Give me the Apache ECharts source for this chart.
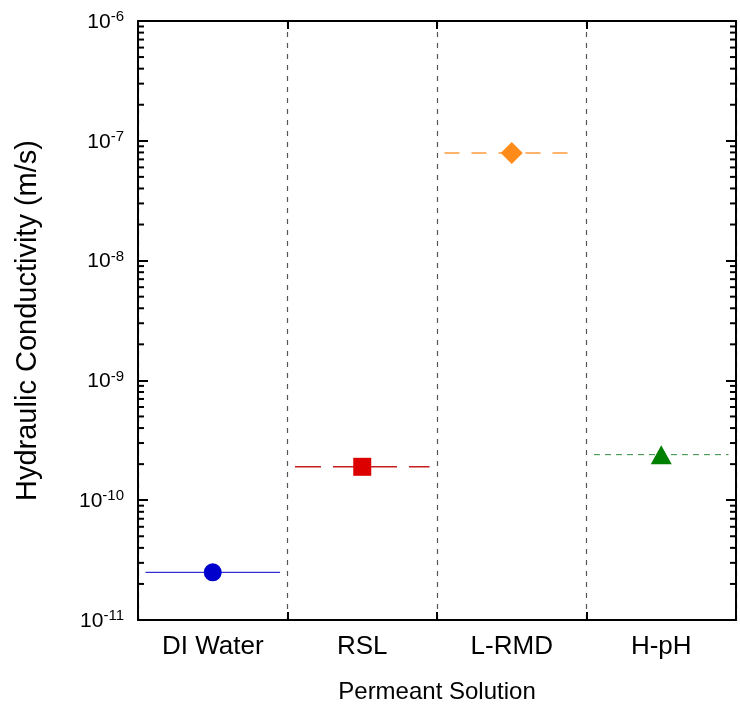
<!DOCTYPE html>
<html>
<head>
<meta charset="utf-8">
<script src="https://cdn.jsdelivr.net/npm/echarts@6/dist/echarts.min.js"></script>
<style>
  html, body { margin: 0; padding: 0; background: #fff; }
  #chart { width: 740px; height: 709px; }
</style>
</head>
<body>
<div id="chart"></div>
<script>
// 数据
const categories = ['DI Water', 'RSL', 'L-RMD', 'H-pH'];
const conductivity = [2.5e-11, 1.9e-10, 7.9e-8, 2.4e-10];
const yMin = 1e-11;
const yMax = 1e-6;

// 样式
const colors = ['#0000cc', '#dd0000', '#ff8c1a', '#008000'];
const lineColors = ['#0000cc', '#c81e1e', '#ff9a3c', '#2e8b3e'];
const lineDashes = [null, [26, 12], [15, 12], [6, 5]];
const lineWidths = [1, 1.5, 1.5, 1];
const symbols = ['circle', 'rect', 'diamond', 'triangle'];
const symbolSizes = [18, 18, [22, 22], [21, 19]];

const FONT = 'Liberation Sans, Arial, sans-serif';

// 对数轴次刻度 2..9 x 10^n
const minorTicks = [];
for (let e = -11; e < -6; e++) {
    for (let m = 2; m <= 9; m++) {
        minorTicks.push([0, m * Math.pow(10, e)]);
    }
}

function supLabel(v) {
    const e = Math.round(Math.log10(v));
    return '{b|10}{s|' + e + '}';
}

const chart = echarts.init(document.getElementById('chart'));

const yAxisBase = {
    type: 'log',
    logBase: 10,
    min: yMin,
    max: yMax,
    axisLine: { show: true, lineStyle: { color: '#000', width: 2 } },
    axisTick: { show: true, inside: true, length: 10, lineStyle: { color: '#000', width: 2 } },
    splitLine: { show: false },
    minorTick: { show: false },
    minorSplitLine: { show: false }
};

const option = {
    animation: false,
    backgroundColor: '#fff',
    grid: { left: 138, right: 4, top: 21, bottom: 88, containLabel: false },
    xAxis: [
        {
            type: 'category',
            data: categories,
            boundaryGap: true,
            position: 'bottom',
            name: 'Permeant Solution',
            nameLocation: 'middle',
            nameGap: 60,
            nameTextStyle: { fontFamily: FONT, fontSize: 24, color: '#000' },
            axisLine: { show: true, lineStyle: { color: '#000', width: 2 } },
            axisTick: { show: true, inside: true, length: 8, alignWithLabel: false, lineStyle: { color: '#000', width: 2 } },
            axisLabel: { fontFamily: FONT, fontSize: 26, color: '#000', margin: 14 },
            splitLine: { show: true, lineStyle: { color: '#555', width: 1.2, type: [5, 6] } }
        },
        {
            type: 'category',
            data: categories,
            boundaryGap: true,
            position: 'top',
            axisLine: { show: true, lineStyle: { color: '#000', width: 2 } },
            axisTick: { show: true, inside: true, length: 8, lineStyle: { color: '#000', width: 2 } },
            axisLabel: { show: false },
            splitLine: { show: false }
        }
    ],
    yAxis: [
        Object.assign({}, yAxisBase, {
            position: 'left',
            name: 'Hydraulic Conductivity (m/s)',
            nameLocation: 'middle',
            nameGap: 96,
            nameRotate: 90,
            nameTextStyle: { fontFamily: FONT, fontSize: 29, color: '#000' },
            axisLabel: {
                margin: 14,
                formatter: supLabel,
                rich: {
                    b: { fontFamily: FONT, fontSize: 21, color: '#000', verticalAlign: 'bottom', lineHeight: 23 },
                    s: { fontFamily: FONT, fontSize: 15, color: '#000', verticalAlign: 'top', padding: [0, 0, 10, 0], lineHeight: 23 }
                }
            }
        }),
        Object.assign({}, yAxisBase, {
            position: 'right',
            axisLabel: { show: false }
        })
    ],
    series: [
        {
            // 次刻度
            type: 'custom',
            silent: true,
            clip: false,
            xAxisIndex: 0,
            yAxisIndex: 0,
            data: minorTicks,
            renderItem: function (params, api) {
                const p = api.coord([0, api.value(1)]);
                const cs = params.coordSys;
                return {
                    type: 'group',
                    children: [
                        { type: 'line', shape: { x1: cs.x, y1: p[1], x2: cs.x + 6, y2: p[1] }, style: { stroke: '#000', lineWidth: 2 } },
                        { type: 'line', shape: { x1: cs.x + cs.width - 6, y1: p[1], x2: cs.x + cs.width, y2: p[1] }, style: { stroke: '#000', lineWidth: 2 } }
                    ]
                };
            }
        },
        {
            // 水平线
            type: 'custom',
            silent: true,
            xAxisIndex: 0,
            yAxisIndex: 0,
            data: conductivity.map(function (v, i) { return [i, v]; }),
            renderItem: function (params, api) {
                const i = api.value(0);
                const p = api.coord([i, api.value(1)]);
                const bw = api.size([1, 0])[0];
                return {
                    type: 'line',
                    shape: { x1: p[0] - 0.45 * bw, y1: p[1], x2: p[0] + 0.45 * bw, y2: p[1] },
                    style: { stroke: lineColors[i], lineWidth: lineWidths[i], lineDash: lineDashes[i] }
                };
            }
        },
        {
            type: 'scatter',
            xAxisIndex: 0,
            yAxisIndex: 0,
            z: 5,
            data: conductivity.map(function (v, i) {
                return {
                    value: [i, v],
                    symbol: symbols[i],
                    symbolSize: symbolSizes[i],
                    itemStyle: { color: colors[i], opacity: 1 }
                };
            })
        }
    ]
};

chart.setOption(option);
</script>
</body>
</html>
